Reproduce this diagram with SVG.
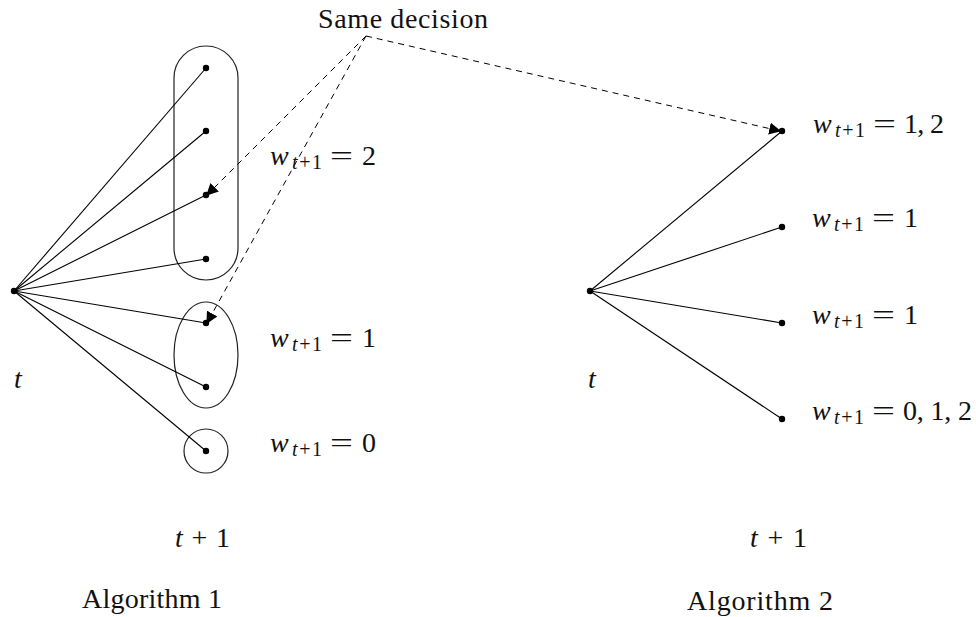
<svg xmlns="http://www.w3.org/2000/svg" width="976" height="617" viewBox="0 0 976 617">
<defs>
<marker id="ah" viewBox="0 0 10 10" refX="9" refY="5" markerWidth="12" markerHeight="12" markerUnits="userSpaceOnUse" orient="auto">
<path d="M0,0 L10,5 L0,10 Z" fill="#000"/>
</marker>
</defs>
<style>
.e{stroke:#000;stroke-width:1.1;fill:none}
.d{stroke:#000;stroke-width:1;fill:none;stroke-dasharray:6,5}
.n{fill:#000}
.s{fill:none;stroke:#222;stroke-width:1.2}
.t{font-family:"Liberation Serif",serif;font-size:28px;fill:#111}
.m{font-style:italic}
.sub{font-family:"Liberation Serif",serif;font-size:20px;fill:#111}
</style>
<rect width="976" height="617" fill="#fff"/>
<g id="sets">
<rect class="s" x="174" y="46" width="64" height="234" rx="32" ry="32"/>
<ellipse class="s" cx="206" cy="355" rx="32" ry="53"/>
<circle class="s" cx="206" cy="451" r="22"/>
</g>
<g id="edges">
<line class="e" x1="14" y1="291" x2="206" y2="68"/>
<line class="e" x1="14" y1="291" x2="206" y2="131"/>
<line class="e" x1="14" y1="291" x2="206" y2="195"/>
<line class="e" x1="14" y1="291" x2="206" y2="259"/>
<line class="e" x1="14" y1="291" x2="206" y2="323"/>
<line class="e" x1="14" y1="291" x2="206" y2="387"/>
<line class="e" x1="14" y1="291" x2="206" y2="451"/>
<line class="e" x1="590" y1="291" x2="782" y2="131"/>
<line class="e" x1="590" y1="291" x2="782" y2="227"/>
<line class="e" x1="590" y1="291" x2="782" y2="323"/>
<line class="e" x1="590" y1="291" x2="782" y2="419"/>
<line class="d" x1="366" y1="36" x2="207" y2="195" marker-end="url(#ah)"/>
<line class="d" x1="366" y1="36" x2="207" y2="323" marker-end="url(#ah)"/>
<line class="d" x1="366" y1="36" x2="780" y2="131" marker-end="url(#ah)"/>
</g>
<g id="root1"><circle class="n" cx="14" cy="291" r="3.2"/><text class="t m" x="14" y="388">t</text></g>
<g id="n1"><circle class="n" cx="206" cy="68" r="3.2"/></g>
<g id="n2"><circle class="n" cx="206" cy="131" r="3.2"/></g>
<g id="n3"><circle class="n" cx="206" cy="195" r="3.2"/></g>
<g id="n4"><circle class="n" cx="206" cy="259" r="3.2"/></g>
<g id="n5"><circle class="n" cx="206" cy="323" r="3.2"/></g>
<g id="n6"><circle class="n" cx="206" cy="387" r="3.2"/></g>
<g id="n7"><circle class="n" cx="206" cy="451" r="3.2"/></g>
<g id="root2"><circle class="n" cx="590" cy="291" r="3.2"/><text class="t m" x="588" y="388">t</text></g>
<g id="m1"><circle class="n" cx="782" cy="131" r="3.2"/></g>
<g id="m2"><circle class="n" cx="782" cy="227" r="3.2"/></g>
<g id="m3"><circle class="n" cx="782" cy="323" r="3.2"/></g>
<g id="m4"><circle class="n" cx="782" cy="419" r="3.2"/></g>
<g id="labels">
<text class="t" x="318" y="28" textLength="170">Same decision</text>

<text class="t m" x="270" y="165">w</text><text class="sub" x="292" y="169" textLength="30"><tspan class="m">t</tspan>+1</text><text class="t" x="330" y="165" textLength="23" lengthAdjust="spacingAndGlyphs">=</text><text class="t" x="362" y="165">2</text>

<text class="t m" x="270" y="347">w</text><text class="sub" x="292" y="351" textLength="30"><tspan class="m">t</tspan>+1</text><text class="t" x="330" y="347" textLength="23" lengthAdjust="spacingAndGlyphs">=</text><text class="t" x="362" y="347">1</text>

<text class="t m" x="270" y="452">w</text><text class="sub" x="292" y="456" textLength="30"><tspan class="m">t</tspan>+1</text><text class="t" x="330" y="452" textLength="23" lengthAdjust="spacingAndGlyphs">=</text><text class="t" x="362" y="452">0</text>

<text class="t m" x="813" y="133">w</text><text class="sub" x="835" y="137" textLength="30"><tspan class="m">t</tspan>+1</text><text class="t" x="873" y="133" textLength="23" lengthAdjust="spacingAndGlyphs">=</text><text class="t" x="904" y="133" textLength="40">1, 2</text>

<text class="t m" x="812" y="227">w</text><text class="sub" x="834" y="231" textLength="30"><tspan class="m">t</tspan>+1</text><text class="t" x="872" y="227" textLength="23" lengthAdjust="spacingAndGlyphs">=</text><text class="t" x="904" y="227">1</text>

<text class="t m" x="812" y="324">w</text><text class="sub" x="834" y="328" textLength="30"><tspan class="m">t</tspan>+1</text><text class="t" x="872" y="324" textLength="23" lengthAdjust="spacingAndGlyphs">=</text><text class="t" x="904" y="324">1</text>

<text class="t m" x="812" y="420">w</text><text class="sub" x="834" y="424" textLength="30"><tspan class="m">t</tspan>+1</text><text class="t" x="872" y="420" textLength="23" lengthAdjust="spacingAndGlyphs">=</text><text class="t" x="903" y="420" textLength="69">0, 1, 2</text>

<text class="t" x="175" y="547" textLength="55"><tspan class="m">t</tspan> + 1</text>
<text class="t" x="750" y="547" textLength="57"><tspan class="m">t</tspan> + 1</text>
<text class="t" x="82" y="608" textLength="140">Algorithm 1</text>
<text class="t" x="687" y="610" textLength="146">Algorithm 2</text>
</g>
</svg>
